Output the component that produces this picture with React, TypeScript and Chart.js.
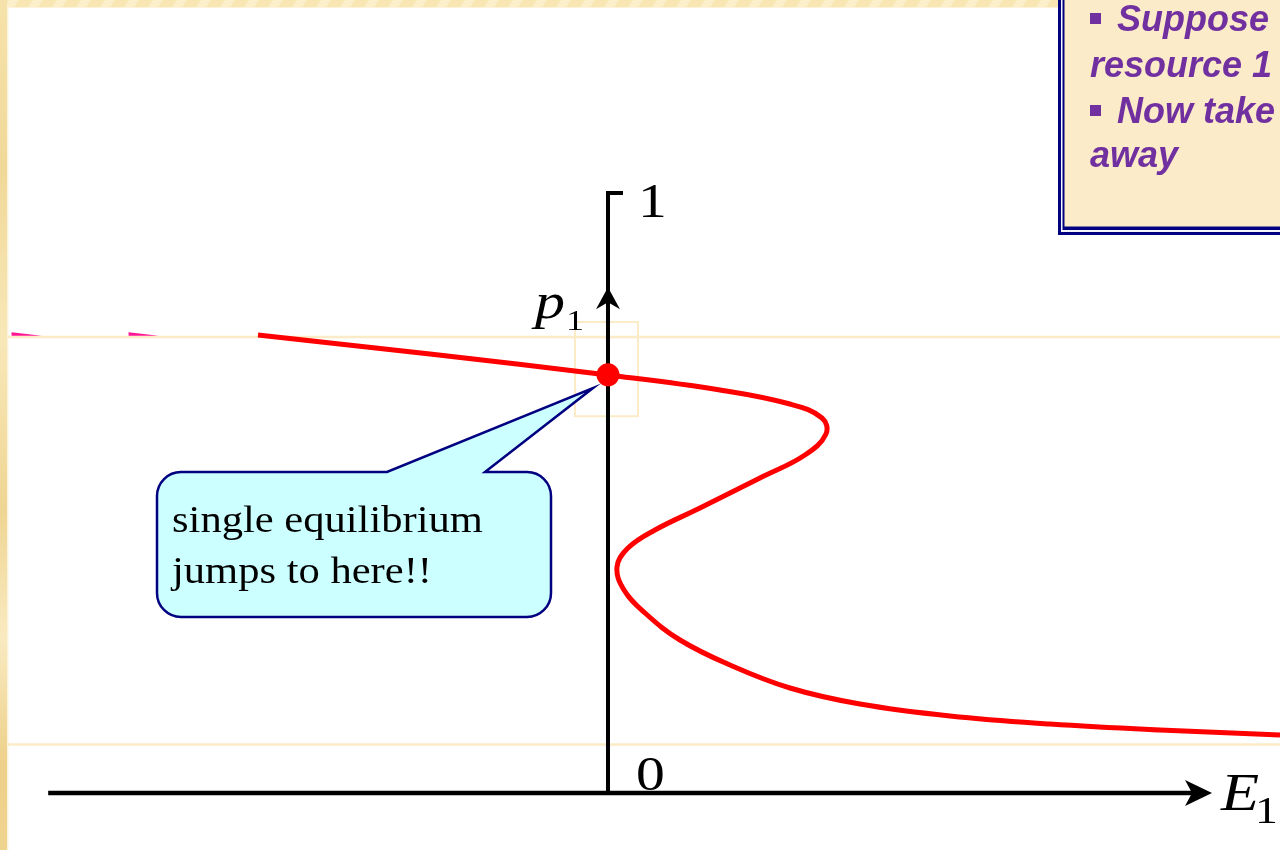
import { useEffect, useRef } from "react";
import { Chart, registerables } from "chart.js";

Chart.register(...registerables);

// ---- data (E1 on x, p1 on y) ----
const X_RANGE = [-1.0133, 1.12];
const Y_RANGE = [-0.095, 1.3217];

const curveE = [-0.5833, -0.2967, 0, 0.1867, 0.3033, 0.3567, 0.3633, 0.3283, 0.2533, 0.1533, 0.0783, 0.0333, 0.015, 0.0267, 0.0617, 0.12, 0.2033, 0.3033, 0.42, 0.57, 0.7367, 0.92, 1.12];
const curveP = [0.7633, 0.7317, 0.6967, 0.6717, 0.6483, 0.625, 0.5983, 0.5633, 0.525, 0.475, 0.4383, 0.4083, 0.3767, 0.3383, 0.3, 0.255, 0.2133, 0.175, 0.1483, 0.1283, 0.115, 0.105, 0.0967];

const equilibriumE = [0];
const equilibriumP = [0.697];

const tickValues = [0, 1];
const tickLabels = ["0", "1"];
const yArrowP = 0.843;
const xAxisStartE = -0.933;
const xAxisArrowE = 1.0067;
const guideLinesP = [0.76, 0.081];
const focusBoxE = [-0.055, 0.05];
const focusBoxP = [0.785, 0.628];
const pinkWedgesE = [[-0.994, -0.944], [-0.799, -0.749]];
const pinkWedgeP = [0.768, 0.762];

const calloutLines = ["single equilibrium", "jumps to here!!"];
const noteLines = [
  { bullet: true, text: "Suppose" },
  { bullet: false, text: "resource 1" },
  { bullet: true, text: "Now take" },
  { bullet: false, text: "away" },
];

const SERIF = "'Liberation Serif', 'Times New Roman', serif";
const SANS = "'Liberation Sans', Arial, sans-serif";

function stretchedText(ctx: CanvasRenderingContext2D, text: string, x: number, y: number, font: string, sx = 1.2) {
  ctx.save();
  ctx.font = font;
  ctx.translate(x, y);
  ctx.scale(sx, 1);
  ctx.textAlign = "left";
  ctx.textBaseline = "alphabetic";
  ctx.fillText(text, 0, 0);
  ctx.restore();
}

const slidePlugin = {
  id: "slide",
  beforeDraw(chart: any) {
    const ctx: CanvasRenderingContext2D = chart.ctx;
    const w = chart.width;
    const h = chart.height;
    const xs = chart.scales.x;
    const ys = chart.scales.y;
    ctx.save();
    ctx.fillStyle = "#ffffff";
    ctx.fillRect(0, 0, w, h);

    // top textured strip
    ctx.fillStyle = "#F8E7B3";
    ctx.fillRect(0, 0, w, 7);
    ctx.save();
    ctx.beginPath();
    ctx.rect(0, 0, w, 7);
    ctx.clip();
    for (let x = -20; x < w + 20; x += 24) {
      ctx.fillStyle = "#FCEFCB";
      ctx.beginPath();
      ctx.moveTo(x, 7);
      ctx.lineTo(x + 5, 0);
      ctx.lineTo(x + 15, 0);
      ctx.lineTo(x + 10, 7);
      ctx.closePath();
      ctx.fill();
    }
    ctx.restore();
    // left strip
    const lg = ctx.createLinearGradient(0, 0, 0, h);
    lg.addColorStop(0, "#F6E3AB");
    lg.addColorStop(0.2, "#F0D898");
    lg.addColorStop(0.4, "#F8E8B8");
    lg.addColorStop(0.6, "#EFD593");
    lg.addColorStop(0.75, "#F9EAC0");
    lg.addColorStop(0.9, "#EDD08A");
    lg.addColorStop(1, "#EFD48F");
    ctx.fillStyle = lg;
    ctx.fillRect(0, 0, 7, h);
    ctx.fillStyle = "#FCF3DA";
    ctx.fillRect(7, 7, 1.5, h);
    ctx.fillRect(7, 7, w, 1);

    // pale guide lines
    ctx.strokeStyle = "#FBEBC6";
    ctx.lineWidth = 2.5;
    for (const p of guideLinesP) {
      const y = ys.getPixelForValue(p);
      ctx.beginPath();
      ctx.moveTo(8, y);
      ctx.lineTo(w, y);
      ctx.stroke();
    }

    // pink fragments
    ctx.fillStyle = "#FF1493";
    for (const [e0, e1] of pinkWedgesE) {
      const x0 = xs.getPixelForValue(e0);
      const x1 = xs.getPixelForValue(e1);
      const yt = ys.getPixelForValue(pinkWedgeP[0]);
      const yb = ys.getPixelForValue(pinkWedgeP[1]);
      ctx.beginPath();
      ctx.moveTo(x0, yt);
      ctx.lineTo(x1, yb);
      ctx.lineTo(x0, yb);
      ctx.closePath();
      ctx.fill();
    }

    // focus box
    ctx.strokeStyle = "#FBEBC6";
    ctx.lineWidth = 2;
    const bx0 = xs.getPixelForValue(focusBoxE[0]);
    const bx1 = xs.getPixelForValue(focusBoxE[1]);
    const by0 = ys.getPixelForValue(focusBoxP[0]);
    const by1 = ys.getPixelForValue(focusBoxP[1]);
    ctx.strokeRect(bx0, by0, bx1 - bx0, by1 - by0);

    // axes
    const ox = xs.getPixelForValue(0);
    const oy = ys.getPixelForValue(tickValues[0]);
    const topY = ys.getPixelForValue(tickValues[1]);
    ctx.strokeStyle = "#000";
    ctx.fillStyle = "#000";
    ctx.lineWidth = 4;
    ctx.lineJoin = "miter";
    ctx.lineCap = "butt";
    ctx.beginPath();
    ctx.moveTo(ox, oy + 2);
    ctx.lineTo(ox, topY);
    ctx.lineTo(ox + 15, topY);
    ctx.stroke();
    // vertical arrowhead
    const ay = ys.getPixelForValue(yArrowP);
    ctx.beginPath();
    ctx.moveTo(ox, ay);
    ctx.lineTo(ox + 12, ay + 22);
    ctx.lineTo(ox, ay + 15);
    ctx.lineTo(ox - 12, ay + 22);
    ctx.closePath();
    ctx.fill();
    // horizontal axis
    const ax0 = xs.getPixelForValue(xAxisStartE);
    const axTip = xs.getPixelForValue(xAxisArrowE);
    ctx.lineWidth = 4.5;
    ctx.beginPath();
    ctx.moveTo(ax0, oy);
    ctx.lineTo(axTip - 18, oy);
    ctx.stroke();
    ctx.beginPath();
    ctx.moveTo(axTip, oy);
    ctx.lineTo(axTip - 27, oy - 13);
    ctx.lineTo(axTip - 20, oy);
    ctx.lineTo(axTip - 27, oy + 13);
    ctx.closePath();
    ctx.fill();

    // labels
    stretchedText(ctx, tickLabels[1], ox + 30, topY + 24, `48px ${SERIF}`);
    stretchedText(ctx, tickLabels[0], ox + 28, oy - 3, `48px ${SERIF}`);
    stretchedText(ctx, "p", ox - 73, ay + 31, `italic 50px ${SERIF}`);
    stretchedText(ctx, "1", ox - 42, ay + 43, `30px ${SERIF}`);
    stretchedText(ctx, "E", axTip + 9, oy + 17, `italic 52px ${SERIF}`);
    stretchedText(ctx, "1", axTip + 43, oy + 30, `38px ${SERIF}`);
    ctx.restore();
  },
  afterDatasetsDraw(chart: any) {
    const ctx: CanvasRenderingContext2D = chart.ctx;
    const w = chart.width;
    ctx.save();
    // callout bubble
    const L = 157, T = 472, R = 551, B = 617, r = 24;
    ctx.beginPath();
    ctx.moveTo(L + r, T);
    ctx.lineTo(387, T);
    ctx.lineTo(593, 388);
    ctx.lineTo(485, T);
    ctx.lineTo(R - r, T);
    ctx.arcTo(R, T, R, T + r, r);
    ctx.lineTo(R, B - r);
    ctx.arcTo(R, B, R - r, B, r);
    ctx.lineTo(L + r, B);
    ctx.arcTo(L, B, L, B - r, r);
    ctx.lineTo(L, T + r);
    ctx.arcTo(L, T, L + r, T, r);
    ctx.closePath();
    ctx.fillStyle = "#CCFFFF";
    ctx.fill();
    ctx.strokeStyle = "#000080";
    ctx.lineWidth = 2.5;
    ctx.lineJoin = "miter";
    ctx.stroke();
    ctx.fillStyle = "#000";
    stretchedText(ctx, calloutLines[0], 172, 532, `38px ${SERIF}`, 1.12);
    stretchedText(ctx, calloutLines[1], 172, 583, `38px ${SERIF}`, 1.12);

    // note box (top right)
    ctx.fillStyle = "#000080";
    ctx.fillRect(1058, -5, w, 240);
    ctx.fillStyle = "#F4F4FA";
    ctx.fillRect(1061, -5, w, 237);
    ctx.fillStyle = "#000080";
    ctx.fillRect(1062.5, -5, w, 235);
    ctx.fillStyle = "#FCEBC9";
    ctx.fillRect(1064.5, -5, w, 231.5);
    ctx.fillStyle = "#7030A0";
    ctx.font = `italic bold 36px ${SANS}`;
    ctx.textBaseline = "alphabetic";
    ctx.textAlign = "left";
    const baselines = [31, 77, 123, 167];
    noteLines.forEach((ln, i) => {
      if (ln.bullet) {
        ctx.fillRect(1090, baselines[i] - 18, 11, 11);
        ctx.fillText(ln.text, 1117, baselines[i]);
      } else {
        ctx.fillText(ln.text, 1090, baselines[i]);
      }
    });
    ctx.restore();
  },
};

export default function App() {
  const ref = useRef<HTMLCanvasElement | null>(null);
  useEffect(() => {
    if (!ref.current) return;
    const chart = new Chart(ref.current, {
      type: "scatter",
      data: {
        datasets: [
          {
            data: curveE.map((e, i) => ({ x: e, y: curveP[i] })),
            showLine: true,
            borderColor: "#FF0000",
            borderWidth: 5,
            pointRadius: 0,
            tension: 0.4,
            fill: false,
          },
          {
            data: equilibriumE.map((e, i) => ({ x: e, y: equilibriumP[i] })),
            pointRadius: 11.5,
            backgroundColor: "#FF0000",
            borderWidth: 0,
          },
        ],
      },
      options: {
        animation: false,
        responsive: true,
        maintainAspectRatio: false,
        events: [],
        layout: { padding: 0, autoPadding: false },
        scales: {
          x: { type: "linear", display: false, min: X_RANGE[0], max: X_RANGE[1] },
          y: { type: "linear", display: false, min: Y_RANGE[0], max: Y_RANGE[1] },
        },
        plugins: { legend: { display: false }, tooltip: { enabled: false } },
      },
      plugins: [slidePlugin],
    });
    return () => chart.destroy();
  }, []);
  return (
    <div style={{ position: "fixed", left: 0, top: 0, width: 1280, height: 850 }}>
      <canvas ref={ref} />
    </div>
  );
}
